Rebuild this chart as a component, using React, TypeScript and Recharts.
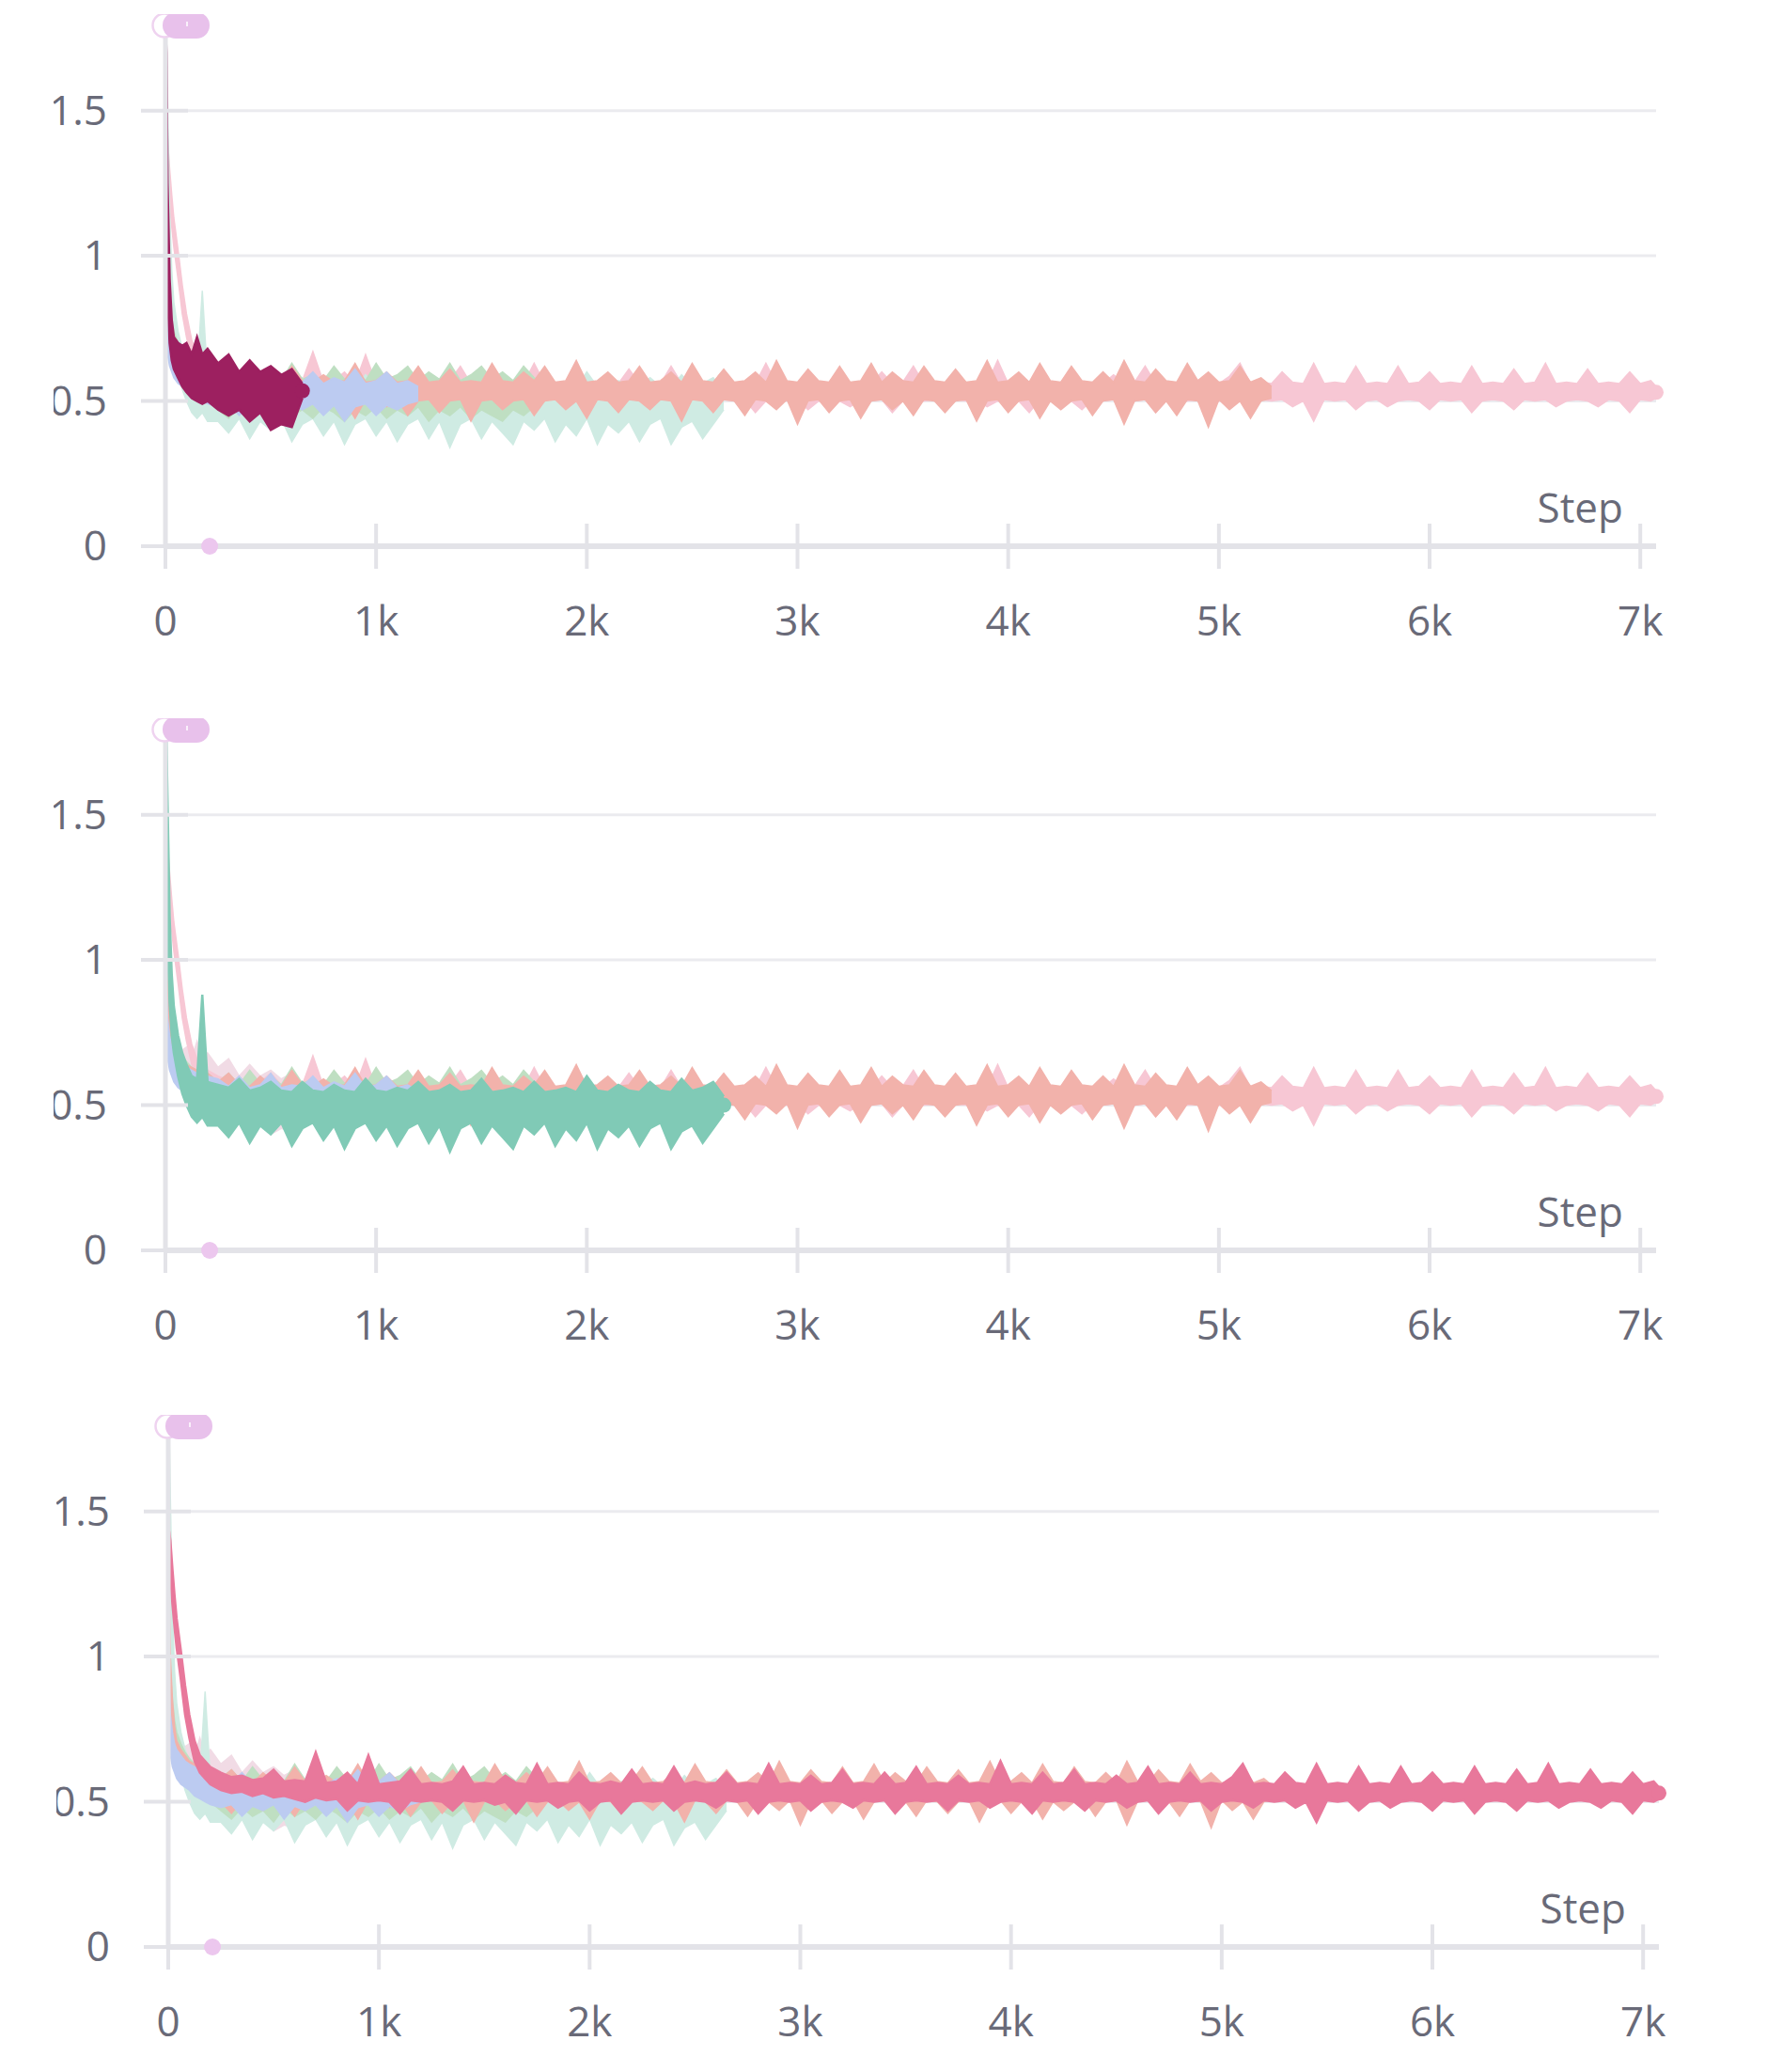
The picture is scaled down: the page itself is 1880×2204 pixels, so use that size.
import React from 'react';
import { AreaChart, Area, XAxis, YAxis, CartesianGrid, ReferenceDot } from 'recharts';

const FONT = '"Open Sans", sans-serif';
const AXIS_GREY = '#e3e3e8';
const GRID_GREY = '#ebebef';
const TEXT_GREY = '#696a78';
const PILL_FILL = '#e8c1eb';
const PILL_RING = '#efd3f0';

const X_TICKS = [0, 1000, 2000, 3000, 4000, 5000, 6000, 7000];
const Y_TICKS = [0, 0.5, 1, 1.5];
const GRID_VALUES = [0.5, 1, 1.5];
const X_MAX = 7075;
const BRUSH_STEP = 210;

// sampled steps (denser at the start where the loss drops)
const STEPS = [
  0, 5, 10, 20, 30, 40, 60, 80, 100, 125, 150, 175, 200,
  250, 300, 350, 400, 450, 500, 550, 600, 650, 700,
  750, 800, 850, 900, 950, 1000, 1050, 1100, 1150, 1200,
  1250, 1300, 1350, 1400, 1450, 1500, 1550, 1600, 1650, 1700,
  1750, 1800, 1850, 1900, 1950, 2000, 2050, 2100, 2150, 2200,
  2250, 2300, 2350, 2400, 2450, 2500, 2550, 2600, 2650, 2700,
  2750, 2800, 2850, 2900, 2950, 3000, 3050, 3100, 3150, 3200,
  3250, 3300, 3350, 3400, 3450, 3500, 3550, 3600, 3650, 3700,
  3750, 3800, 3850, 3900, 3950, 4000, 4050, 4100, 4150, 4200,
  4250, 4300, 4350, 4400, 4450, 4500, 4550, 4600, 4650, 4700,
  4750, 4800, 4850, 4900, 4950, 5000, 5050, 5100, 5150, 5200,
  5250, 5300, 5350, 5400, 5450, 5500, 5550, 5600, 5650, 5700,
  5750, 5800, 5850, 5900, 5950, 6000, 6050, 6100, 6150, 6200,
  6250, 6300, 6350, 6400, 6450, 6500, 6550, 6600, 6650, 6700,
  6750, 6800, 6850, 6900, 6950, 7000, 7050, 7075,
];

// min / max of each run's loss per sampled step
const PINK_LO = [
  1.38, 1.34, 1.28, 1.18, 1.10, 1.03, 0.92, 0.80, 0.72, 0.64, 0.60, 0.58, 0.56,
  0.54, 0.53, 0.535, 0.52, 0.53, 0.515, 0.52, 0.51, 0.50, 0.515,
  0.505, 0.51, 0.47, 0.505, 0.50, 0.505, 0.50, 0.46, 0.505, 0.50,
  0.505, 0.50, 0.47, 0.505, 0.50, 0.505, 0.49, 0.50, 0.46, 0.505,
  0.50, 0.505, 0.48, 0.50, 0.505, 0.47, 0.50, 0.505, 0.46, 0.50,
  0.505, 0.50, 0.505, 0.47, 0.50, 0.505, 0.50, 0.48, 0.505, 0.50,
  0.505, 0.46, 0.50, 0.505, 0.50, 0.505, 0.47, 0.50, 0.505, 0.50,
  0.48, 0.505, 0.50, 0.505, 0.46, 0.50, 0.505, 0.50, 0.505, 0.47,
  0.505, 0.50, 0.505, 0.48, 0.50, 0.505, 0.50, 0.46, 0.505, 0.50,
  0.505, 0.50, 0.47, 0.505, 0.50, 0.505, 0.48, 0.50, 0.505, 0.46,
  0.50, 0.505, 0.50, 0.505, 0.47, 0.50, 0.505, 0.50, 0.48, 0.505,
  0.50, 0.505, 0.48, 0.50, 0.43, 0.505, 0.50, 0.505, 0.47, 0.50,
  0.505, 0.48, 0.50, 0.505, 0.50, 0.47, 0.505, 0.50, 0.505, 0.46,
  0.50, 0.505, 0.50, 0.47, 0.505, 0.50, 0.505, 0.48, 0.50, 0.505,
  0.50, 0.48, 0.505, 0.50, 0.46, 0.505, 0.50, 0.51,
];
const PINK_HI = [
  1.44, 1.43, 1.40, 1.30, 1.21, 1.13, 1.02, 0.90, 0.80, 0.71, 0.66, 0.64, 0.62,
  0.60, 0.585, 0.59, 0.575, 0.58, 0.61, 0.57, 0.575, 0.57, 0.67,
  0.565, 0.57, 0.60, 0.56, 0.66, 0.56, 0.565, 0.57, 0.61, 0.56,
  0.565, 0.56, 0.57, 0.62, 0.56, 0.565, 0.56, 0.59, 0.565, 0.56,
  0.63, 0.56, 0.565, 0.56, 0.60, 0.565, 0.56, 0.57, 0.56, 0.61,
  0.56, 0.565, 0.56, 0.62, 0.56, 0.57, 0.56, 0.565, 0.60, 0.56,
  0.565, 0.56, 0.63, 0.56, 0.565, 0.56, 0.59, 0.56, 0.565, 0.61,
  0.56, 0.565, 0.56, 0.60, 0.56, 0.565, 0.62, 0.56, 0.565, 0.56,
  0.59, 0.56, 0.565, 0.56, 0.64, 0.56, 0.565, 0.56, 0.60, 0.56,
  0.565, 0.61, 0.56, 0.565, 0.56, 0.59, 0.56, 0.565, 0.62, 0.56,
  0.565, 0.56, 0.60, 0.56, 0.565, 0.56, 0.585, 0.63, 0.56, 0.565,
  0.56, 0.60, 0.565, 0.56, 0.63, 0.56, 0.565, 0.56, 0.62, 0.56,
  0.565, 0.56, 0.62, 0.56, 0.565, 0.60, 0.56, 0.565, 0.56, 0.62,
  0.56, 0.565, 0.56, 0.61, 0.56, 0.565, 0.63, 0.56, 0.565, 0.56,
  0.61, 0.56, 0.565, 0.56, 0.60, 0.56, 0.57, 0.55,
];

const SALMON_LO = [
  1.20, 0.95, 0.85, 0.72, 0.66, 0.62, 0.59, 0.57, 0.55, 0.54, 0.53, 0.52, 0.52,
  0.50, 0.46, 0.505, 0.50, 0.47, 0.505, 0.50, 0.45, 0.505, 0.50,
  0.47, 0.505, 0.50, 0.44, 0.505, 0.50, 0.48, 0.505, 0.45, 0.50,
  0.505, 0.46, 0.50, 0.505, 0.43, 0.50, 0.505, 0.47, 0.50, 0.505,
  0.45, 0.50, 0.505, 0.47, 0.50, 0.44, 0.505, 0.50, 0.46, 0.505,
  0.50, 0.47, 0.505, 0.50, 0.43, 0.505, 0.50, 0.46, 0.505, 0.50,
  0.45, 0.505, 0.50, 0.47, 0.505, 0.42, 0.50, 0.505, 0.46, 0.50,
  0.505, 0.44, 0.50, 0.505, 0.47, 0.50, 0.45, 0.505, 0.50, 0.46,
  0.50, 0.505, 0.43, 0.50, 0.505, 0.46, 0.50, 0.505, 0.44, 0.50,
  0.47, 0.50, 0.505, 0.45, 0.50, 0.505, 0.42, 0.50, 0.505, 0.46,
  0.50, 0.45, 0.505, 0.50, 0.41, 0.505, 0.47, 0.50, 0.44, 0.50,
  0.51,
];
const SALMON_HI = [
  1.50, 1.20, 1.00, 0.85, 0.76, 0.71, 0.68, 0.66, 0.64, 0.63, 0.62, 0.61, 0.61,
  0.58, 0.61, 0.57, 0.565, 0.60, 0.57, 0.565, 0.62, 0.57, 0.565,
  0.59, 0.565, 0.57, 0.63, 0.565, 0.57, 0.60, 0.565, 0.57, 0.62,
  0.565, 0.57, 0.61, 0.565, 0.57, 0.565, 0.63, 0.57, 0.565, 0.60,
  0.57, 0.62, 0.565, 0.57, 0.64, 0.565, 0.57, 0.60, 0.565, 0.57,
  0.62, 0.565, 0.57, 0.60, 0.565, 0.63, 0.57, 0.565, 0.61, 0.565,
  0.57, 0.60, 0.565, 0.64, 0.57, 0.565, 0.61, 0.57, 0.565, 0.62,
  0.565, 0.57, 0.63, 0.565, 0.60, 0.57, 0.565, 0.62, 0.57, 0.565,
  0.61, 0.565, 0.57, 0.64, 0.565, 0.57, 0.60, 0.565, 0.63, 0.57,
  0.565, 0.62, 0.57, 0.565, 0.60, 0.565, 0.64, 0.57, 0.565, 0.61,
  0.57, 0.565, 0.63, 0.57, 0.60, 0.565, 0.57, 0.62, 0.565, 0.58,
  0.55,
];

const MINT_LO = [
  1.72, 1.45, 1.05, 0.85, 0.74, 0.68, 0.60, 0.54, 0.50, 0.46, 0.44, 0.46, 0.43,
  0.43, 0.39, 0.44, 0.37, 0.43, 0.40, 0.44, 0.36, 0.42, 0.44,
  0.38, 0.43, 0.35, 0.42, 0.44, 0.38, 0.43, 0.36, 0.42, 0.44,
  0.37, 0.43, 0.34, 0.42, 0.44, 0.37, 0.43, 0.39, 0.35, 0.43,
  0.40, 0.44, 0.36, 0.42, 0.38, 0.44, 0.35, 0.42, 0.39, 0.43,
  0.36, 0.42, 0.44, 0.35, 0.41, 0.43, 0.37, 0.42, 0.47,
];
const MINT_HI = [
  1.79, 1.76, 1.55, 1.15, 0.95, 0.84, 0.74, 0.68, 0.64, 0.60, 0.59, 0.88, 0.58,
  0.57, 0.56, 0.59, 0.55, 0.56, 0.58, 0.55, 0.545, 0.58, 0.55,
  0.545, 0.57, 0.55, 0.545, 0.59, 0.55, 0.545, 0.56, 0.55, 0.58,
  0.545, 0.55, 0.57, 0.545, 0.55, 0.59, 0.545, 0.55, 0.56, 0.545,
  0.58, 0.545, 0.55, 0.56, 0.545, 0.60, 0.55, 0.545, 0.57, 0.55,
  0.545, 0.58, 0.55, 0.545, 0.59, 0.55, 0.56, 0.58, 0.53,
];

const GREEN_LO = [
  1.00, 0.85, 0.78, 0.70, 0.66, 0.63, 0.60, 0.57, 0.55, 0.53, 0.52, 0.51, 0.50,
  0.47, 0.44, 0.48, 0.45, 0.47, 0.43, 0.48, 0.45, 0.47, 0.44,
  0.48, 0.46, 0.43, 0.47, 0.45, 0.48, 0.44, 0.47, 0.45, 0.48,
  0.43, 0.47, 0.45, 0.48, 0.44, 0.47, 0.45, 0.43, 0.47, 0.45,
  0.48, 0.50,
];
const GREEN_HI = [
  1.20, 1.05, 0.95, 0.85, 0.78, 0.74, 0.70, 0.67, 0.65, 0.63, 0.62, 0.61, 0.61,
  0.58, 0.61, 0.57, 0.62, 0.575, 0.60, 0.57, 0.63, 0.575, 0.59,
  0.57, 0.62, 0.575, 0.60, 0.57, 0.63, 0.575, 0.59, 0.62, 0.57,
  0.60, 0.575, 0.63, 0.57, 0.59, 0.62, 0.575, 0.60, 0.57, 0.62,
  0.58, 0.56,
];

const BLUE_LO = [
  0.85, 0.72, 0.66, 0.62, 0.60, 0.58, 0.56, 0.55, 0.54, 0.52, 0.51, 0.50, 0.49,
  0.48, 0.49, 0.45, 0.485, 0.47, 0.49, 0.44, 0.485, 0.47, 0.49,
  0.45, 0.485, 0.43, 0.48, 0.49, 0.45, 0.485, 0.47, 0.49, 0.50,
];
const BLUE_HI = [
  1.00, 0.90, 0.80, 0.74, 0.70, 0.68, 0.66, 0.64, 0.63, 0.62, 0.61, 0.60, 0.60,
  0.59, 0.565, 0.60, 0.56, 0.57, 0.61, 0.56, 0.57, 0.565, 0.60,
  0.56, 0.58, 0.565, 0.61, 0.56, 0.57, 0.60, 0.56, 0.57, 0.55,
];

const MAROON_LO = [
  1.74, 0.95, 0.86, 0.70, 0.64, 0.61, 0.58, 0.55, 0.53, 0.51, 0.50, 0.49, 0.50,
  0.47, 0.45, 0.47, 0.43, 0.46, 0.40, 0.42, 0.41, 0.51,
];
const MAROON_HI = [
  1.79, 1.70, 1.25, 0.92, 0.78, 0.72, 0.70, 0.69, 0.70, 0.66, 0.72, 0.66, 0.68,
  0.63, 0.66, 0.60, 0.64, 0.60, 0.62, 0.59, 0.61, 0.56,
];

// drawn bottom to top when faded
const RUNS = [
  { key: 'maroon', lo: MAROON_LO, hi: MAROON_HI, strong: '#9d2060', faded: '#f1dbe5' },
  { key: 'pink', lo: PINK_LO, hi: PINK_HI, strong: '#e8789b', faded: '#f7c7d4' },
  { key: 'mint', lo: MINT_LO, hi: MINT_HI, strong: '#80cab6', faded: '#cfebe3' },
  { key: 'green', lo: GREEN_LO, hi: GREEN_HI, strong: '#86c28e', faded: '#bfdfc2' },
  { key: 'salmon', lo: SALMON_LO, hi: SALMON_HI, strong: '#ec8f84', faded: '#f2b2ab' },
  { key: 'blue', lo: BLUE_LO, hi: BLUE_HI, strong: '#8fa9ec', faded: '#bccbf1' },
];

const rows = STEPS.map((step, i) => {
  const row: any = { step };
  RUNS.forEach((r) => {
    row[r.key] = i < r.lo.length ? [r.lo[i], r.hi[i]] : null;
  });
  return row;
});

const fmtStep = (v: number) => (v === 0 ? '0' : `${v / 1000}k`);

const XTick = (props: any) => {
  const { x, y, payload } = props;
  return (
    <g>
      <line x1={x} x2={x} y1={y - 24} y2={y + 24} stroke={AXIS_GREY} strokeWidth={4} />
      <text x={x} y={y + 95} textAnchor="middle" fill={TEXT_GREY} fontSize={44} fontFamily={FONT}>
        {fmtStep(payload.value)}
      </text>
    </g>
  );
};

const YTick = (props: any) => {
  const { x, y, payload } = props;
  return (
    <g>
      <line x1={x - 26} x2={x + 24} y1={y} y2={y} stroke={AXIS_GREY} strokeWidth={4} />
      <text
        x={x - 62}
        y={y + 15}
        textAnchor="end"
        fill={TEXT_GREY}
        fontSize={44}
        fontFamily={FONT}
        clipPath="url(#ylabel-clip)"
      >
        {String(payload.value)}
      </text>
    </g>
  );
};

const Pill = (props: any) => {
  const { cx, cy } = props;
  return (
    <g>
      <circle cx={cx - 1} cy={cy + 2} r={12.5} fill="#fff" stroke={PILL_RING} strokeWidth={2.5} />
      <rect x={cx - 3} y={cy - 12} width={50} height={28} rx={14} fill={PILL_FILL} />
      <line x1={cx + 23} x2={cx + 23} y1={cy - 2} y2={cy + 3} stroke="#fff" strokeWidth={1.5} />
    </g>
  );
};

const StepLabel = (props: any) => (
  <text x={props.cx - 35} y={props.cy - 25} textAnchor="end" fill={TEXT_GREY} fontSize={44} fontFamily={FONT}>
    Step
  </text>
);

const Panel = ({ highlight, top, left, width }: any) => {
  const hl = RUNS.find((r) => r.key === highlight)!;
  const ordered = [...RUNS.filter((r) => r.key !== highlight), hl];
  const last = (r: any) => ({
    x: STEPS[r.lo.length - 1],
    y: (r.lo[r.lo.length - 1] + r.hi[r.hi.length - 1]) / 2,
  });
  const hlEnd = last(hl);
  const pink = RUNS.find((r) => r.key === 'pink')!;
  const pinkEnd = last(pink);

  return (
    <div style={{ position: 'absolute', top, left }}>
      <AreaChart
        width={width}
        height={676}
        data={rows}
        margin={{ top: 10, right: width - 1762, bottom: 0, left: 0 }}
      >
        <CartesianGrid vertical={false} horizontalValues={GRID_VALUES} stroke={GRID_GREY} strokeWidth={3} />
        <XAxis
          dataKey="step"
          type="number"
          domain={[0, X_MAX]}
          ticks={X_TICKS}
          interval={0}
          height={110}
          tickSize={0}
          tickMargin={0}
          tickLine={false}
          axisLine={{ stroke: AXIS_GREY, strokeWidth: 6 }}
          tick={(p: any) => <XTick {...p} />}
          allowDataOverflow
        />
        <YAxis
          type="number"
          domain={[0, 1.8]}
          ticks={Y_TICKS}
          interval={0}
          width={176}
          tickSize={0}
          tickMargin={0}
          tickLine={false}
          axisLine={{ stroke: AXIS_GREY, strokeWidth: 5 }}
          tick={(p: any) => <YTick {...p} />}
        />
        {ordered.map((r) => {
          const on = r.key === highlight;
          const c = on ? r.strong : r.faded;
          return (
            <Area
              key={r.key}
              dataKey={r.key}
              type="linear"
              stroke={c}
              strokeWidth={on ? 2.5 : 1.5}
              fill={c}
              fillOpacity={1}
              dot={false}
              activeDot={false}
              connectNulls={false}
              isAnimationActive={false}
            />
          );
        })}
        {highlight !== 'pink' && (
          <ReferenceDot x={pinkEnd.x} y={pinkEnd.y} r={8} fill={pink.faded} stroke="none" />
        )}
        <ReferenceDot x={hlEnd.x} y={hlEnd.y} r={8} fill={hl.strong} stroke="none" />
        <ReferenceDot x={0} y={1.8} ifOverflow="visible" shape={(p: any) => <Pill {...p} />} />
        <ReferenceDot x={BRUSH_STEP} y={0} r={9} fill="#ecc7ee" stroke="none" />
        <ReferenceDot x={X_MAX} y={0} ifOverflow="visible" shape={(p: any) => <StepLabel {...p} />} />
      </AreaChart>
    </div>
  );
};

export default function App() {
  return (
    <div style={{ position: 'absolute', top: 0, left: 0, width: 1880, height: 2204, background: '#fff', overflow: 'hidden' }}>
      <svg width={0} height={0} style={{ position: 'absolute' }}>
        <defs>
          <clipPath id="ylabel-clip" clipPathUnits="userSpaceOnUse">
            <rect x={57} y={-5000} width={10000} height={10000} />
          </clipPath>
        </defs>
      </svg>
      <Panel highlight="maroon" top={15} left={0} width={1880} />
      <Panel highlight="mint" top={764} left={0} width={1880} />
      <Panel highlight="pink" top={1505} left={3} width={1877} />
    </div>
  );
}
